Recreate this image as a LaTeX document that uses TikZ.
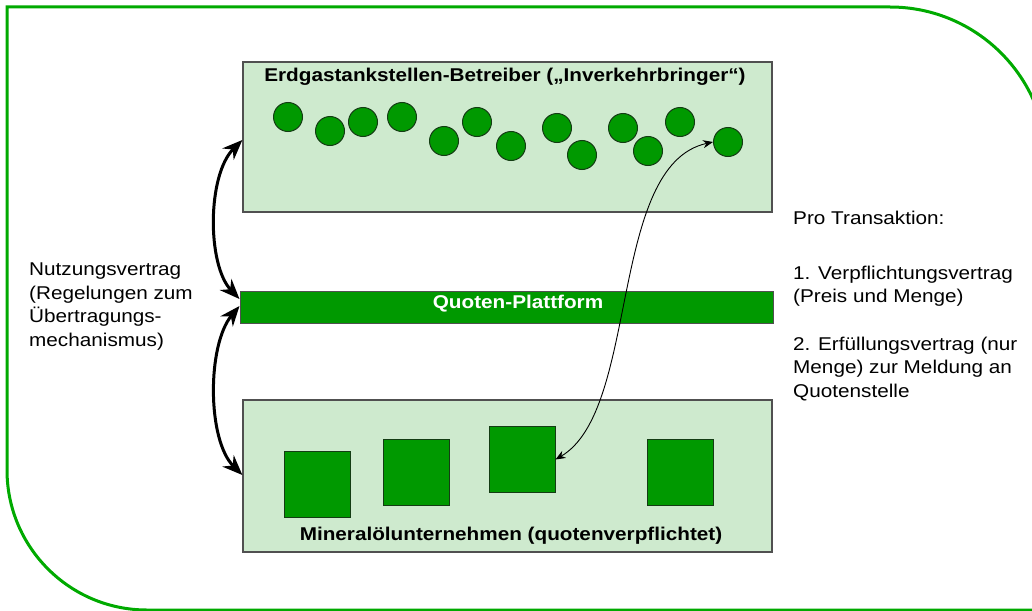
\documentclass[tikz,border=0pt]{standalone}
\usepackage{fontspec}
\setmainfont{Liberation Sans}[FakeStretch=1.12]
\usetikzlibrary{arrows.meta}
\definecolor{frameg}{RGB}{0,170,0}
\definecolor{boxg}{RGB}{206,234,206}
\definecolor{darkg}{RGB}{0,153,0}
\definecolor{edgeg}{RGB}{80,80,80}
\definecolor{shapeedge}{RGB}{20,60,20}
\begin{document}
\begin{tikzpicture}[x=1pt,y=-1pt,
  panel/.style={draw=edgeg, line width=1.3pt, fill=boxg, minimum width=529pt, minimum height=150pt, inner sep=0pt},
  bar/.style={draw=edgeg, line width=1pt, fill=darkg, minimum width=533pt, minimum height=32pt, inner sep=0pt},
  dot/.style={circle, draw=shapeedge, line width=1pt, fill=darkg, minimum size=29pt, inner sep=0pt},
  blk/.style={rectangle, draw=shapeedge, line width=1pt, fill=darkg, minimum size=66pt, inner sep=0pt},
  txt/.style={font=\fontsize{18.5}{23.5}\selectfont, align=left, inner sep=0pt, anchor=west},
  ttl/.style={font=\fontsize{18.5}{23.5}\selectfont\bfseries, inner sep=0pt},
  bigarrow/.style={line width=3pt, {Stealth[length=20pt,width=16pt]}-{Stealth[length=20pt,width=16pt]}},
  thinarrow/.style={line width=0.9pt, {Stealth[length=10pt,width=8pt]}-{Stealth[length=10pt,width=8pt]}},
  frameline/.style={draw=frameg, line width=3pt}
]
\useasboundingbox (0,0) rectangle (1032,610);
\clip (0,0) rectangle (1032,610);
\fill[white] (0,0) rectangle (1032,610);

% outer frame
\draw[frameline] (1100,610) -- (147,610) arc[start angle=270,end angle=180,radius=140pt]
  -- (7,7) -- (890,7) arc[start angle=90,end angle=0,radius=157pt] -- (1047,700);

% panels
\node[panel] (top) at (507.5,137) {};
\node[bar] (plat) at (506.5,307) {};
\node[panel, minimum height=152pt] (bot) at (507.5,476) {};

\node[ttl] (toptitle) at (505,77) {Erdgastankstellen-Betreiber („Inverkehrbringer“)};
\node[ttl, text=white] (plattitle) at (518,304) {Quoten-Plattform};
\node[ttl] (bottitle) at (511,536) {Mineralölunternehmen (quotenverpflichtet)};

% circles
\node[dot] (c1) at (288,117) {};
\node[dot] (c2) at (330,131) {};
\node[dot] (c3) at (363,122) {};
\node[dot] (c4) at (402,117) {};
\node[dot] (c5) at (444,141) {};
\node[dot] (c6) at (477,122) {};
\node[dot] (c7) at (511,146) {};
\node[dot] (c8) at (557,128) {};
\node[dot] (c9) at (582,155) {};
\node[dot] (c10) at (623,128) {};
\node[dot] (c11) at (648,151) {};
\node[dot] (c12) at (680,122) {};
\node[dot] (c13) at (728,142) {};

% squares
\node[blk] (s1) at (317.5,484.5) {};
\node[blk] (s2) at (416.5,472) {};
\node[blk] (s3) at (522,459.5) {};
\node[blk] (s4) at (680.5,472) {};

% left arrows
\draw[bigarrow] ([yshift=-3pt]top.west) .. controls (207,175) and (207,265) .. ([yshift=8pt]plat.west);
\draw[bigarrow] ([yshift=1pt]plat.west) .. controls (207,345) and (207,440) .. ([yshift=1pt]bot.west);

% transaction arrow
\draw[thinarrow] (s3.east) .. controls (640,410) and (608,165) .. (c13.west);

% texts
\node[txt] (lefttext) at (29,306.5) {Nutzungsvertrag\\(Regelungen zum\\Übertragungs-\\mechanismus)};
\node[txt] (pro) at (793,218) {Pro Transaktion:};
\node[txt] (v1) at (793,286) {1. Verpflichtungsvertrag\\(Preis und Menge)};
\node[txt] (v2) at (793,369) {2. Erfüllungsvertrag (nur\\Menge) zur Meldung an\\Quotenstelle};
\end{tikzpicture}
\end{document}
